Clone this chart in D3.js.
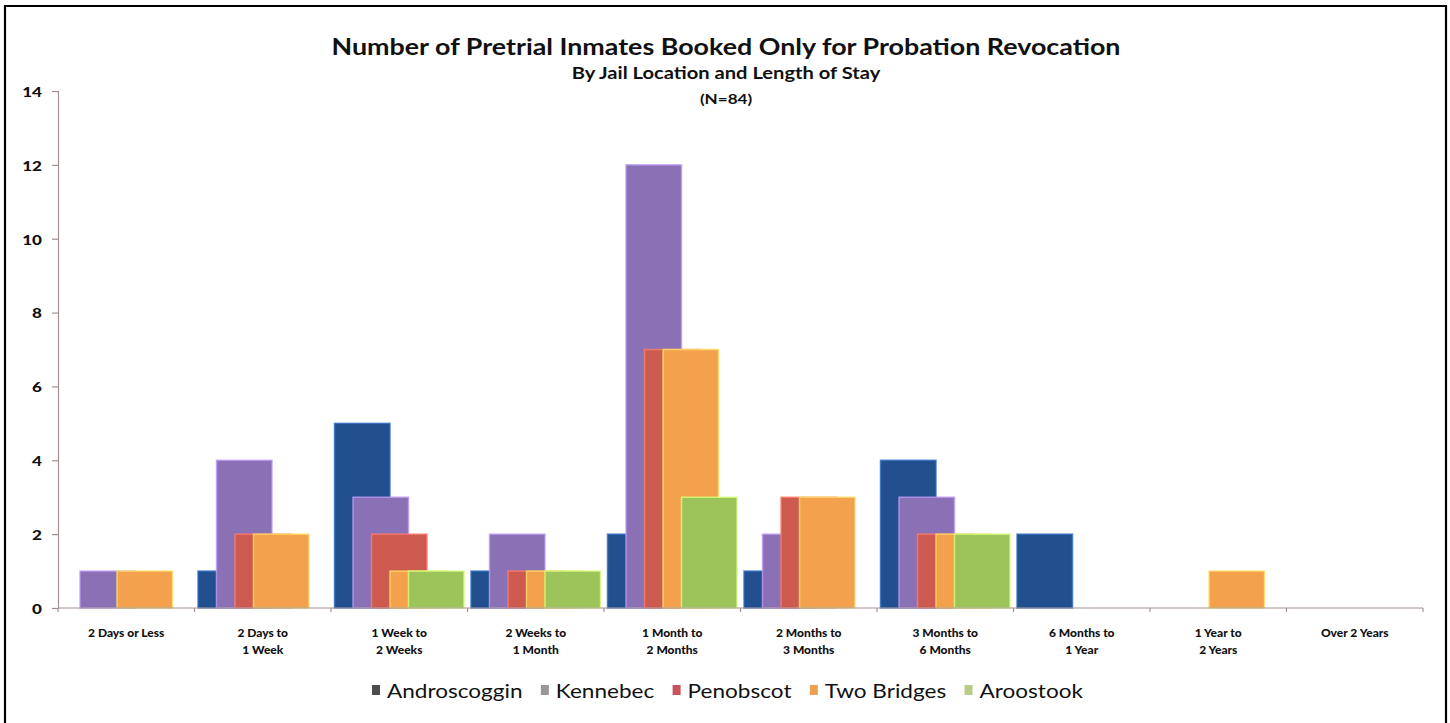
<!DOCTYPE html>
<html>
<head>
<meta charset="utf-8">
<script src="https://cdn.jsdelivr.net/npm/d3@7"></script>
<style>
  html, body { margin: 0; padding: 0; background: #fff; }
  svg { display: block; }
  text { font-family: Lato, "Open Sans", sans-serif; fill: #111; }
</style>
</head>
<body>
<svg id="chart" width="1450" height="723"></svg>
<script>
// Length-of-stay categories (two-line labels)
const categories = [
  ["2 Days or Less"],
  ["2 Days to", "1 Week"],
  ["1 Week to", "2 Weeks"],
  ["2 Weeks to", "1 Month"],
  ["1 Month to", "2 Months"],
  ["2 Months to", "3 Months"],
  ["3 Months to", "6 Months"],
  ["6 Months to", "1 Year"],
  ["1 Year to", "2 Years"],
  ["Over 2 Years"]
];

const seriesNames = ["Androscoggin", "Kennebec", "Penobscot", "Two Bridges", "Aroostook"];

// Inmate counts per jail, one value per category
const androscoggin = [0, 1, 5, 1, 2, 1, 4, 2, 0, 0];
const kennebec     = [1, 4, 3, 2, 12, 2, 3, 0, 0, 0];
const penobscot    = [0, 2, 2, 1, 7, 3, 2, 0, 0, 0];
const twoBridges   = [1, 2, 1, 1, 7, 3, 2, 0, 1, 0];
const aroostook    = [0, 0, 1, 1, 3, 0, 2, 0, 0, 0];

const yTicks = [0, 2, 4, 6, 8, 10, 12, 14];

const barColors    = ["#22508f", "#8a70b4", "#cc5a4f", "#f3a14c", "#9cc45a"];
const legendColors = ["#4d4d4f", "#9a979b", "#c8515e", "#eea152", "#b5cb86"];

const series = [androscoggin, kennebec, penobscot, twoBridges, aroostook];

const svg = d3.select("#chart");
const SX = 1.22; // horizontal stretch of the typeface

// Places a text element at (x, y) with a horizontal stretch around its anchor
function placeText(sel, x, y, sx) {
  return sel.attr("x", 0).attr("y", 0)
    .attr("transform", `translate(${x},${y}) scale(${sx},1)`);
}

// Outer frame
svg.append("path")
  .attr("d", "M5,723 L5,6 L1446,6 L1446,723")
  .attr("fill", "none")
  .attr("stroke", "#000")
  .attr("stroke-width", 2.2);

const plot = { left: 58, right: 1423, top: 91, bottom: 608 };

const x = d3.scaleBand()
  .domain(d3.range(categories.length))
  .range([plot.left, plot.right])
  .paddingInner(0).paddingOuter(0);

const y = d3.scaleLinear().domain([0, 14]).range([plot.bottom, plot.top]);

// Position of overlapping bars within a category: 5 bars, each 3 steps wide
const slot = d3.scaleLinear().domain([0, 7]);
const slotRange = ci => [x(ci) + 3.5, x(ci) + x.bandwidth() - 3.5];

// Bars: later series drawn on top of earlier ones
series.forEach((vals, si) => {
  svg.append("g")
    .selectAll("rect")
    .data(vals.map((v, ci) => ({ v, ci })).filter(d => d.v > 0))
    .join("rect")
    .attr("x", d => slot.range(slotRange(d.ci))(si))
    .attr("width", d => slot.range(slotRange(d.ci))(si + 3) - slot(si))
    .attr("y", d => y(d.v))
    .attr("height", d => y(0) - y(d.v))
    .attr("fill", barColors[si])
    .attr("stroke", d3.color(barColors[si]).brighter(0.9))
    .attr("stroke-opacity", 0.8)
    .attr("stroke-width", 1.5);
});

// Y axis
const axisColor = "#a39191";
const yAxis = d3.axisLeft(y).tickValues(yTicks).tickSize(6).tickPadding(10);
const gy = svg.append("g").attr("transform", `translate(${plot.left},0)`).call(yAxis);
gy.select(".domain").attr("stroke", axisColor).attr("stroke-width", 1.2);
gy.selectAll(".tick line").attr("stroke", axisColor).attr("stroke-width", 1.2);
gy.selectAll(".tick text")
  .style("font-family", "Lato, sans-serif")
  .style("font-size", "14px")
  .style("font-weight", "900")
  .attr("fill", "#111")
  .attr("x", null)
  .attr("dy", null)
  .attr("dominant-baseline", "central")
  .attr("transform", `translate(-16,0) scale(${SX},1)`);

// X axis line with ticks at category boundaries
const bounds = d3.range(categories.length + 1).map(i => plot.left + i * x.bandwidth());
svg.append("line")
  .attr("x1", plot.left).attr("x2", plot.right)
  .attr("y1", y(0)).attr("y2", y(0))
  .attr("stroke", axisColor).attr("stroke-width", 1.2);
svg.append("g").selectAll("line")
  .data(bounds)
  .join("line")
  .attr("x1", d => d).attr("x2", d => d)
  .attr("y1", y(0)).attr("y2", y(0) + 4)
  .attr("stroke", axisColor).attr("stroke-width", 1.2);

// Category labels
const xl = svg.append("g");
categories.forEach((lines, ci) => {
  lines.forEach((ln, li) => {
    xl.append("text")
      .attr("x", x(ci) + x.bandwidth() / 2)
      .attr("y", 637 + li * 17)
      .attr("text-anchor", "middle")
      .style("font-size", "12px")
      .style("font-weight", "900")
      .text(ln);
  });
});

// Titles
placeText(svg.append("text"), 726, 55, SX)
  .attr("text-anchor", "middle")
  .style("font-size", "22px").style("font-weight", "bold")
  .text("Number of Pretrial Inmates Booked Only for Probation Revocation");
placeText(svg.append("text"), 726, 79, SX)
  .attr("text-anchor", "middle")
  .style("font-size", "16.5px").style("font-weight", "bold")
  .text("By Jail Location and Length of Stay");
placeText(svg.append("text"), 726, 104, SX)
  .attr("text-anchor", "middle")
  .style("font-size", "14px").style("font-weight", "bold")
  .text("(N=84)");

// Legend
const legend = svg.append("g");
const legendItems = seriesNames.map((name, si) => {
  const t = legend.append("text")
    .style("font-size", "18.5px")
    .attr("fill", "#222")
    .text(name);
  return { t, w: t.node().getComputedTextLength() * SX, si };
});
const legendStart = 372, legendEnd = 1083, markerGap = 15;
const textTotal = d3.sum(legendItems, d => d.w + markerGap);
const itemGap = (legendEnd - legendStart - textTotal) / (legendItems.length - 1);
let lx = legendStart;
legendItems.forEach(d => {
  legend.append("rect")
    .attr("x", lx).attr("y", 685)
    .attr("width", 8).attr("height", 10)
    .attr("fill", legendColors[d.si]);
  placeText(d.t, lx + markerGap, 698, SX);
  lx += markerGap + d.w + itemGap;
});
</script>
</body>
</html>
